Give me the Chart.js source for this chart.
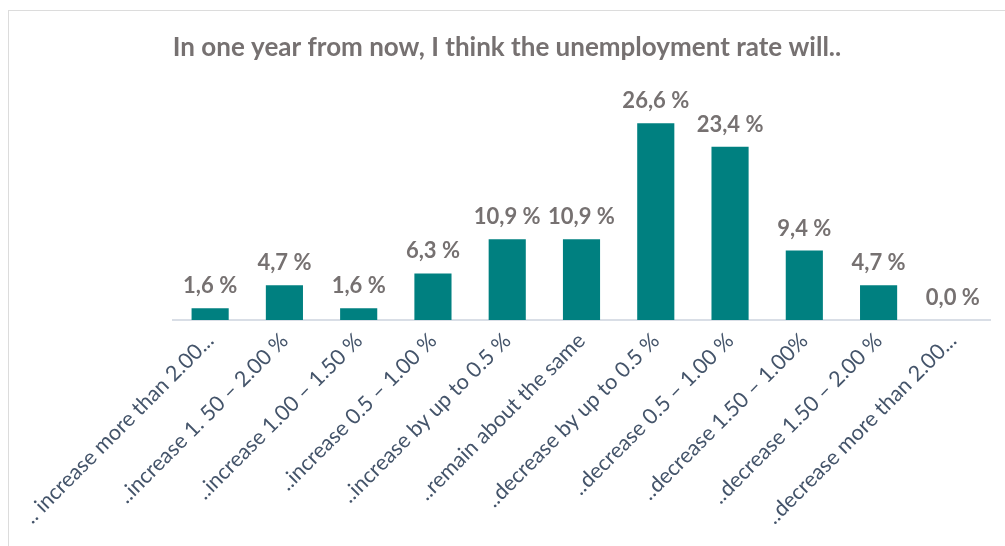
<!DOCTYPE html>
<html>
<head>
<meta charset="utf-8">
<script src="https://cdn.jsdelivr.net/npm/chart.js@4"></script>
<style>
  html, body { margin: 0; padding: 0; background: #fff; }
  #frame {
    position: absolute; left: 8px; top: 10px; width: 1100px; height: 600px;
    border: 1px solid #dcdcdc; box-sizing: border-box;
  }
  #wrap { position: absolute; left: 0; top: 0; width: 1005px; height: 546px; }
</style>
</head>
<body>
<div id="frame"></div>
<div id="wrap"><canvas id="grafica"></canvas></div>
<script>
// --- DATOS ---
const categorias = [
    ".. increase more than 2.00...",
    "..increase 1. 50 – 2.00 %",
    "..increase 1.00 – 1.50 %",
    "..increase 0.5 – 1.00 %",
    "..increase by up to 0.5 %",
    "..remain about the same",
    "..decrease by up to 0.5 %",
    "..decrease 0.5 – 1.00 %",
    "..decrease 1.50 – 1.00%",
    "..decrease 1.50 – 2.00 %",
    "..decrease more than 2.00..."
];
const porcentajes = [1.6, 4.7, 1.6, 6.3, 10.9, 10.9, 26.6, 23.4, 9.4, 4.7, 0.0];
const titulo = "In one year from now, I think the unemployment rate will..";

// etiquetas encima de cada barra (formato con coma decimal)
const etiquetasValor = {
    id: 'etiquetasValor',
    afterDatasetsDraw(chart) {
        const ctx = chart.ctx;
        const meta = chart.getDatasetMeta(0);
        ctx.save();
        ctx.font = 'bold 22px Lato';
        ctx.fillStyle = '#767171';
        ctx.textAlign = 'center';
        ctx.textBaseline = 'bottom';
        meta.data.forEach((bar, i) => {
            const txt = porcentajes[i].toFixed(1).replace('.', ',') + ' %';
            ctx.fillText(txt, bar.x, bar.y - 11);
        });
        ctx.restore();
    }
};

// titulo centrado sobre todo el marco, no sobre el area del grafico
const tituloCentrado = {
    id: 'tituloCentrado',
    afterDraw(chart) {
        const ctx = chart.ctx;
        ctx.save();
        ctx.font = 'bold 26px Lato';
        ctx.fillStyle = '#767171';
        ctx.textAlign = 'center';
        ctx.textBaseline = 'middle';
        ctx.fillText(titulo, 507, 48);
        ctx.restore();
    }
};

const ctx = document.getElementById('grafica').getContext('2d');
new Chart(ctx, {
    type: 'bar',
    data: {
        labels: categorias,
        datasets: [{
            data: porcentajes,
            backgroundColor: '#008080',
            borderWidth: 0,
            categoryPercentage: 1.0,
            barPercentage: 0.5
        }]
    },
    options: {
        responsive: true,
        maintainAspectRatio: false,
        animation: false,
        layout: { padding: { left: 173, right: 15, top: 98, bottom: 10 } },
        plugins: {
            legend: { display: false },
            tooltip: { enabled: false },
            title: { display: false }
        },
        scales: {
            x: {
                grid: { display: false, drawTicks: false },
                border: { color: '#d9dee6', width: 2 },
                ticks: {
                    color: '#44546A',
                    font: { family: 'Lato', size: 21.5 },
                    minRotation: 45,
                    maxRotation: 45,
                    autoSkip: false,
                    padding: 8
                },
                afterFit(scale) {
                    scale.height = 216;
                    scale.paddingLeft = 0;
                    scale.paddingRight = 0;
                }
            },
            y: {
                display: false,
                min: 0,
                max: 30
            }
        }
    },
    plugins: [etiquetasValor, tituloCentrado]
});
</script>
</body>
</html>
